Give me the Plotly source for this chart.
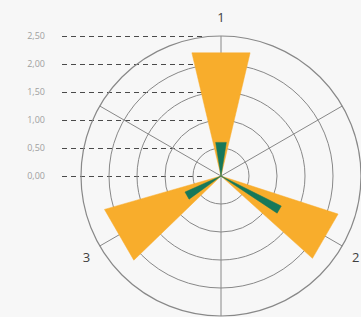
import math
import plotly.graph_objects as go

# ---- data ----
categories = ["1", "2", "3"]
orange_values = [2.2, 2.15, 2.1]
green_values = [0.6, 1.2, 0.7]
radial_ticks = [0.0, 0.5, 1.0, 1.5, 2.0, 2.5]

# ---- styles ----
ORANGE = "#F8AD2C"
GREEN = "#17785A"
GRID = "#888888"
orange_half = [13.3, 12.0, 14.0]
green_half = [9.0, 3.5, 6.0]

n = len(categories)
cat_angles = [i * 360.0 / n for i in range(n)]

fig = go.Figure()


def wedge(value, center, half, color):
    rr = value / math.cos(math.radians(half))
    return go.Scatterpolar(
        r=[0, rr, rr, 0],
        theta=[center, center - half, center + half, center],
        mode="lines",
        fill="toself",
        fillcolor=color,
        line=dict(color=color, width=0.5),
        hoverinfo="skip",
        showlegend=False,
    )


for v, a, h in zip(orange_values, cat_angles, orange_half):
    fig.add_trace(wedge(v, a, h, ORANGE))
for v, a, h in zip(green_values, cat_angles, green_half):
    fig.add_trace(wedge(v, a, h, GREEN))

# invisible trace to create the cartesian overlay for dashed value lines
fig.add_trace(go.Scatter(x=[0], y=[0], mode="markers", marker=dict(opacity=0),
                         hoverinfo="skip", showlegend=False, xaxis="x", yaxis="y"))

W, H = 361, 317
cx, cy, R = 221, 176, 140
ydom = [(H - (cy + R)) / H, (H - (cy - R)) / H]

rmax = max(radial_ticks)
lo, hi = -0.5, rmax * 1.03
px_per = R / rmax
ydom_c = [(H - (cy - lo * px_per)) / H, (H - (cy - hi * px_per)) / H]

spokes = [i * 360.0 / (2 * n) for i in range(2 * n)]
spoke_text = [categories[i // 2] if i % 2 == 0 else "" for i in range(2 * n)]

fig.update_layout(
    width=W, height=H,
    autosize=False,
    margin=dict(l=0, r=0, t=0, b=0, autoexpand=False),
    paper_bgcolor="#F7F7F7",
    plot_bgcolor="rgba(0,0,0,0)",
    separators=", ",
    font=dict(family="Open Sans, Liberation Sans, sans-serif"),
    polar=dict(
        domain=dict(x=[(cx - R) / W, (cx + R) / W], y=ydom),
        bgcolor="rgba(0,0,0,0)",
        radialaxis=dict(
            range=[0, rmax],
            tickvals=radial_ticks[1:],
            showticklabels=False,
            ticks="",
            showline=False,
            gridcolor=GRID,
            gridwidth=1.2,
        ),
        angularaxis=dict(
            rotation=90,
            direction="clockwise",
            tickmode="array",
            tickvals=spokes,
            ticktext=spoke_text,
            ticks="outside",
            ticklen=8,
            tickcolor="rgba(0,0,0,0)",
            showline=True,
            linecolor=GRID,
            linewidth=1.2,
            gridcolor=GRID,
            gridwidth=1.2,
            tickfont=dict(size=13, color="#404040"),
        ),
    ),
    xaxis=dict(domain=[62 / W, 203 / W], range=[0, 1], visible=False, fixedrange=True),
    yaxis=dict(
        domain=ydom_c,
        range=[lo, hi],
        tickmode="array",
        tickvals=radial_ticks,
        tickformat=".2f",
        showgrid=True,
        griddash="5px,4px",
        gridcolor="#4A4A4A",
        gridwidth=1,
        zeroline=False,
        showline=False,
        ticks="",
        ticklabelstandoff=16,
        tickfont=dict(size=9, color="#A0A0A0"),
        fixedrange=True,
    ),
)

fig.write_html(
    "out.html",
    config={"displayModeBar": False},
    post_script="document.body.style.margin='0';document.body.style.background='#F7F7F7';",
)
